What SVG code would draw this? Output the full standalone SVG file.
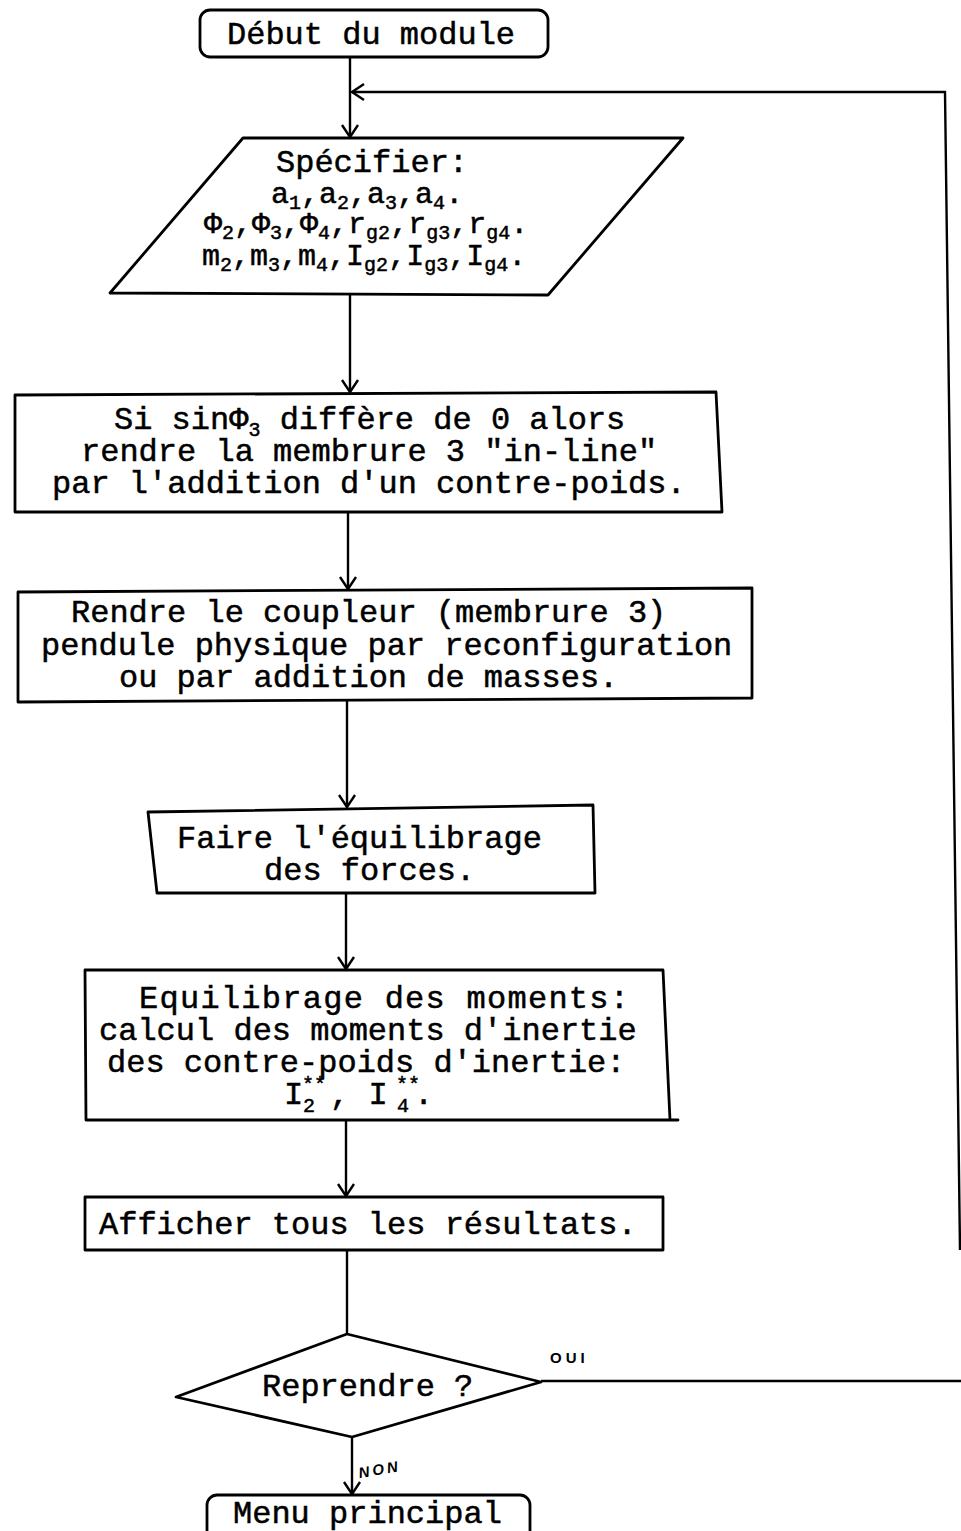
<svg xmlns="http://www.w3.org/2000/svg" width="961" height="1531" viewBox="0 0 961 1531">
<style>
  .shape { fill: none; stroke: #000; stroke-width: 2.8; stroke-linejoin: round; }
  .conn { fill: none; stroke: #000; stroke-width: 2.4; }
  .t { font-family: "Liberation Mono", "DejaVu Sans Mono", monospace; font-size: 32px; fill: #000; stroke: #000; stroke-width: 0.5; }
  .tp { font-family: "Liberation Mono", "DejaVu Sans Mono", monospace; font-size: 30px; fill: #000; stroke: #000; stroke-width: 0.5; }
  .sub { font-size: 20px; }
  .hand { font-family: "Liberation Sans", "DejaVu Sans", sans-serif; font-size: 15px; font-weight: bold; fill: #000; }
</style>
<defs>
  <marker id="arr" markerUnits="userSpaceOnUse" markerWidth="20" markerHeight="20" viewBox="-1 -10 15 20" refX="12" refY="0" orient="auto">
    <path d="M0,-8 L12,0 L0,8" fill="none" stroke="#000" stroke-width="2.4"/>
  </marker>
</defs>
<rect width="961" height="1531" fill="#fff"/>

<g id="connectors">
  <path class="conn" d="M350,57 L350,137" marker-end="url(#arr)"/>
  <path class="conn" d="M350,294 L350,392" marker-end="url(#arr)"/>
  <path class="conn" d="M348,512 L348,589" marker-end="url(#arr)"/>
  <path class="conn" d="M347,700 L347,807" marker-end="url(#arr)"/>
  <path class="conn" d="M346,893 L346,969" marker-end="url(#arr)"/>
  <path class="conn" d="M346,1120 L346,1196" marker-end="url(#arr)"/>
  <path class="conn" d="M347,1250 L347,1334"/>
  <path class="conn" d="M352,1437 L352,1494" marker-end="url(#arr)"/>
  <path class="conn" d="M541,1381 L961,1381"/>
  <path class="conn" d="M960,1250 L945,92 L352,92" marker-end="url(#arr)"/>
  <text class="hand" x="550" y="1363" letter-spacing="4">OUI</text>
  <text class="hand" x="358" y="1474" font-style="italic" transform="rotate(-10 383 1467)" letter-spacing="3">NON</text>
</g>

<g id="debut">
  <rect class="shape" x="200" y="10" width="348" height="47" rx="10"/>
  <text class="t" x="227" y="44">Début du module</text>
</g>

<g id="specifier">
  <path class="shape" d="M243,138 L683,138 L548,295 L110,293 Z"/>
  <text class="t" x="276" y="172" font-size="31">Spécifier:</text>
  <text class="tp" x="271" y="203">a<tspan class="sub" dy="6">1</tspan><tspan dy="-6">,a</tspan><tspan class="sub" dy="6">2</tspan><tspan dy="-6">,a</tspan><tspan class="sub" dy="6">3</tspan><tspan dy="-6">,a</tspan><tspan class="sub" dy="6">4</tspan><tspan dy="-6">.</tspan></text>
  <text class="tp" x="204" y="233">Φ<tspan class="sub" dy="6">2</tspan><tspan dy="-6">,Φ</tspan><tspan class="sub" dy="6">3</tspan><tspan dy="-6">,Φ</tspan><tspan class="sub" dy="6">4</tspan><tspan dy="-6">,r</tspan><tspan class="sub" dy="6">g2</tspan><tspan dy="-6">,r</tspan><tspan class="sub" dy="6">g3</tspan><tspan dy="-6">,r</tspan><tspan class="sub" dy="6">g4</tspan><tspan dy="-6">.</tspan></text>
  <text class="tp" x="202" y="265">m<tspan class="sub" dy="6">2</tspan><tspan dy="-6">,m</tspan><tspan class="sub" dy="6">3</tspan><tspan dy="-6">,m</tspan><tspan class="sub" dy="6">4</tspan><tspan dy="-6">,I</tspan><tspan class="sub" dy="6">g2</tspan><tspan dy="-6">,I</tspan><tspan class="sub" dy="6">g3</tspan><tspan dy="-6">,I</tspan><tspan class="sub" dy="6">g4</tspan><tspan dy="-6">.</tspan></text>
</g>

<g id="sinphi">
  <path class="shape" d="M15,395 L716,392 L722,512 L15,512 Z"/>
  <text class="t" x="114" y="429">Si sinΦ<tspan class="sub" dy="7">3</tspan><tspan dy="-7"> diffère de 0 alors</tspan></text>
  <text class="t" x="81" y="461">rendre la membrure 3 "in-line"</text>
  <text class="t" x="52" y="493">par l'addition d'un contre-poids.</text>
</g>

<g id="coupleur">
  <path class="shape" d="M18,592 L752,588 L752,698 L18,702 Z"/>
  <text class="t" x="71" y="622">Rendre le coupleur (membrure 3)</text>
  <text class="t" x="41" y="655">pendule physique par reconfiguration</text>
  <text class="t" x="119" y="687">ou par addition de masses.</text>
</g>

<g id="forces">
  <path class="shape" d="M148,812 L593,805 L595,893 L157,893 Z"/>
  <text class="t" x="177" y="848">Faire l'équilibrage</text>
  <text class="t" x="264" y="880">des forces.</text>
</g>

<g id="moments">
  <path class="shape" d="M85,970 L663,970 L670,1120 L678,1120 L86,1120 Z"/>
  <text class="t" x="139" y="1008" textLength="490">Equilibrage des moments:</text>
  <text class="t" x="99" y="1040">calcul des moments d'inertie</text>
  <text class="t" x="107" y="1072">des contre-poids d'inertie:</text>
  <text class="t" x="284" y="1104">I<tspan class="sub" x="303" y="1112">2</tspan><tspan class="sub" font-size="18" x="302" y="1091">**</tspan><tspan x="330" y="1104">, I</tspan><tspan class="sub" x="397" y="1112">4</tspan><tspan class="sub" font-size="18" x="396" y="1091">**</tspan><tspan x="414" y="1104">.</tspan></text>
</g>

<g id="afficher">
  <rect class="shape" x="85" y="1197" width="578" height="53"/>
  <text class="t" x="99" y="1234">Afficher tous les résultats.</text>
</g>

<g id="reprendre">
  <path class="shape" d="M347,1334 L541,1382 L352,1437 L176,1397 Z"/>
  <text class="t" x="262" y="1396">Reprendre ?</text>
</g>

<g id="menu">
  <rect class="shape" x="207" y="1495" width="323" height="50" rx="10"/>
  <text class="t" x="233" y="1523">Menu principal</text>
</g>
</svg>
